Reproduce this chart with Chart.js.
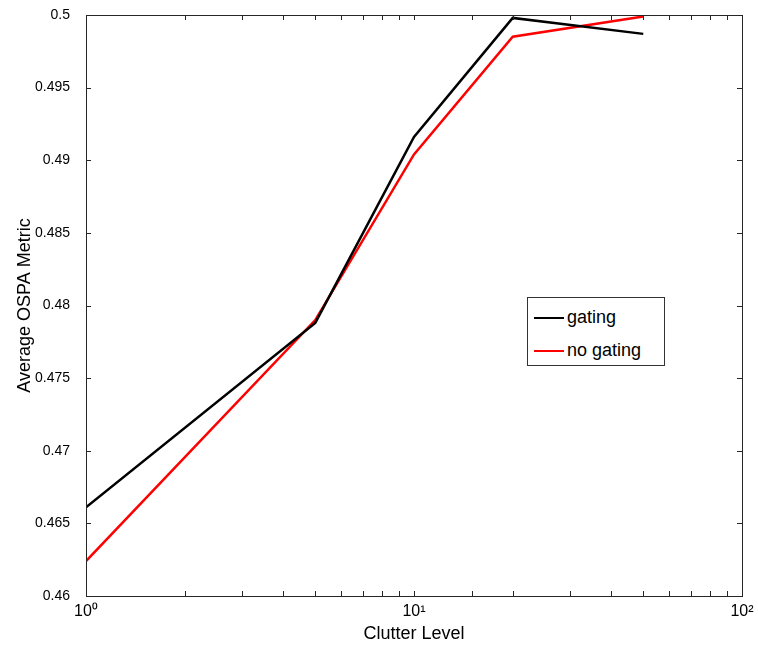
<!DOCTYPE html>
<html>
<head>
<meta charset="utf-8">
<script src="https://cdn.jsdelivr.net/npm/chart.js@4"></script>
<style>
  body { margin: 0; background: #fff; }
  #wrap { position: relative; width: 758px; height: 647px; }
  #legend {
    position: absolute; left: 527px; top: 297px; width: 136px; height: 67px;
    border: 1px solid #333; background: #fff;
    font-family: "Liberation Sans", Arial, sans-serif; font-size: 18px; color: #000;
  }
  #legend .row { position: absolute; left: 6px; height: 20px; line-height: 20px; }
  #legend .sw { display: inline-block; width: 30px; height: 0; border-top: 2px solid; vertical-align: middle; margin-right: 3px; }
</style>
</head>
<body>
<div id="wrap">
  <canvas id="myChart" width="758" height="647"></canvas>
  <div id="legend"></div>
</div>
<script>
var clutter = [1, 5, 10, 20, 50];
var gating = [0.4661, 0.4788, 0.4916, 0.4998, 0.4987];
var noGating = [0.4624, 0.4790, 0.4904, 0.4985, 0.4999];
var yTicks = [0.46, 0.465, 0.47, 0.475, 0.48, 0.485, 0.49, 0.495, 0.5];
var sup = { 1: '10\u2070', 10: '10\u00b9', 100: '10\u00b2' };

function pts(ys) {
  return clutter.map(function (x, i) { return { x: x, y: ys[i] }; });
}

// MATLAB style box with inward ticks on all four sides
var boxTicks = {
  id: 'boxTicks',
  afterDraw: function (chart) {
    var ctx = chart.ctx, a = chart.chartArea;
    var xs = chart.scales.x, ys = chart.scales.y;
    ctx.save();
    ctx.strokeStyle = '#262626';
    ctx.lineWidth = 1;
    ctx.beginPath();
    xs.ticks.forEach(function (t) {
      var px = Math.round(xs.getPixelForValue(t.value)) + 0.5;
      ctx.moveTo(px, a.bottom); ctx.lineTo(px, a.bottom - 5);
      ctx.moveTo(px, a.top); ctx.lineTo(px, a.top + 5);
    });
    ys.ticks.forEach(function (t) {
      var py = Math.round(ys.getPixelForValue(t.value)) + 0.5;
      ctx.moveTo(a.left, py); ctx.lineTo(a.left + 5, py);
      ctx.moveTo(a.right, py); ctx.lineTo(a.right - 5, py);
    });
    ctx.stroke();
    ctx.strokeRect(Math.round(a.left) + 0.5, Math.round(a.top) + 0.5,
      Math.round(a.right - a.left), Math.round(a.bottom - a.top));
    ctx.restore();
  }
};

var config = {
  type: 'line',
  data: {
    datasets: [{
      label: 'gating',
      data: pts(gating),
      borderColor: '#000000',
      borderWidth: 2.5,
      pointRadius: 0,
      tension: 0
    }, {
      label: 'no gating',
      data: pts(noGating),
      borderColor: '#ff0000',
      borderWidth: 2.5,
      pointRadius: 0,
      tension: 0
    }]
  },
  options: {
    responsive: false,
    animation: false,
    layout: { padding: { left: 0, right: 16, top: 15, bottom: 0 } },
    plugins: {
      legend: { display: false },
      tooltip: { enabled: false }
    },
    scales: {
      x: {
        type: 'logarithmic',
        min: 1,
        max: 100,
        afterFit: function (s) {
          s.height = 51;
          s.paddingLeft = 0; s.paddingRight = 0;
        },
        grid: { display: false, drawTicks: false },
        border: { display: false },
        ticks: {
          autoSkip: false,
          maxRotation: 0,
          padding: 6,
          color: '#000',
          font: { family: '"Liberation Sans", Arial, sans-serif', size: 16 },
          callback: function (v) { return sup[v] || ''; }
        },
        title: {
          display: true,
          text: 'Clutter Level',
          color: '#000',
          padding: { top: 0, bottom: 2 },
          font: { family: '"Liberation Sans", Arial, sans-serif', size: 18 }
        }
      },
      y: {
        min: 0.46,
        max: 0.5,
        afterFit: function (s) {
          s.width = 86;
          s.paddingTop = 0; s.paddingBottom = 0;
        },
        afterBuildTicks: function (s) {
          s.ticks = yTicks.map(function (v) { return { value: v }; });
        },
        grid: { display: false, drawTicks: false },
        border: { display: false },
        ticks: {
          padding: 16,
          color: '#000',
          font: { family: '"Liberation Sans", Arial, sans-serif', size: 14 },
          callback: function (v) { return String(Number(v.toFixed(3))); }
        },
        title: {
          display: true,
          text: 'Average OSPA Metric',
          color: '#000',
          padding: { top: 14, bottom: 0 },
          font: { family: '"Liberation Sans", Arial, sans-serif', size: 18 }
        }
      }
    }
  },
  plugins: [boxTicks]
};

var chart = new Chart(document.getElementById('myChart'), config);

var legend = document.getElementById('legend');
chart.data.datasets.forEach(function (ds, i) {
  var row = document.createElement('div');
  row.className = 'row';
  row.style.top = (9 + i * 33) + 'px';
  row.innerHTML = '<span class="sw" style="border-color:' + ds.borderColor + '"></span>' + ds.label;
  legend.appendChild(row);
});
</script>
</body>
</html>
